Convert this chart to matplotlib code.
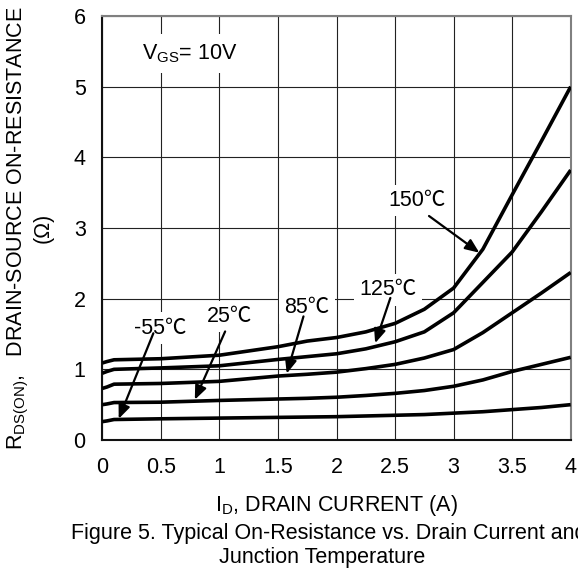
import matplotlib
matplotlib.use('Agg')
import matplotlib.pyplot as plt

plt.rcParams['font.family'] = ['Liberation Sans', 'Noto Sans CJK SC', 'DejaVu Sans']
plt.rcParams['mathtext.fontset'] = 'custom'
plt.rcParams['mathtext.rm'] = 'Liberation Sans'

# drain current (A) and R_DS(ON) (ohm)
i_d = [0.0, 0.04, 0.1, 0.5, 1.0, 1.5, 1.75, 2.0, 2.25, 2.5, 2.75, 3.0, 3.25, 3.5, 3.75, 4.0]
r_m55 = [0.26, 0.27, 0.29, 0.30, 0.31, 0.32, 0.325, 0.33, 0.34, 0.35, 0.36, 0.38, 0.40, 0.43, 0.46, 0.50]
r_25 = [0.50, 0.51, 0.53, 0.535, 0.56, 0.58, 0.59, 0.605, 0.63, 0.66, 0.70, 0.76, 0.85, 0.97, 1.07, 1.17]
r_85 = [0.73, 0.75, 0.79, 0.80, 0.83, 0.905, 0.93, 0.96, 1.01, 1.07, 1.16, 1.28, 1.52, 1.80, 2.08, 2.37]
r_125 = [0.945, 0.97, 1.0, 1.02, 1.05, 1.14, 1.18, 1.22, 1.29, 1.39, 1.53, 1.80, 2.23, 2.66, 3.23, 3.82]
r_150 = [1.09, 1.11, 1.135, 1.15, 1.20, 1.32, 1.40, 1.45, 1.53, 1.65, 1.85, 2.15, 2.70, 3.47, 4.23, 5.0]
curves = [r_m55, r_25, r_85, r_125, r_150]

temp_labels = ['-55℃', '25℃', '85℃', '125℃', '150℃']
label_xy = [(0.493, 1.584), (1.085, 1.749), (1.747, 1.868), (2.444, 2.128), (2.69, 3.39)]
arrow_from = [(0.436, 1.51), (1.049, 1.536), (1.718, 1.749), (2.46, 2.01), (2.79, 3.17)]
arrow_to = [(0.14, 0.30), (0.79, 0.57), (1.575, 0.94), (2.33, 1.37), (3.22, 2.65)]

x_ticks = [0, 0.5, 1, 1.5, 2, 2.5, 3, 3.5, 4]
x_ticklabels = ['0', '0.5', '1', '1.5', '2', '2.5', '3', '3.5', '4']
y_ticks = [0, 1, 2, 3, 4, 5, 6]

FS = 15.5

fig = plt.figure(figsize=(5.78, 5.70), dpi=100)
ax = fig.add_axes([102.3 / 578, 130 / 570, (570.7 - 102.3) / 578, (440 - 16) / 570])

for r in curves:
    ax.plot(i_d, r, color='black', lw=2.6, solid_capstyle='butt', solid_joinstyle='round', zorder=3)

ax.set_xlim(0, 4)
ax.set_ylim(0, 6)
ax.set_xticks(x_ticks)
ax.set_xticklabels(x_ticklabels)
ax.set_yticks(y_ticks)
ax.tick_params(length=0, labelsize=FS)
ax.tick_params(axis='x', pad=12)
ax.tick_params(axis='y', pad=12)
ax.grid(True, color='#222222', lw=0.8, zorder=0)
ax.set_axisbelow(True)
for side in ('top', 'right'):
    ax.spines[side].set_color('#808080')
    ax.spines[side].set_linewidth(1.5)
for side in ('left', 'bottom'):
    ax.spines[side].set_color('#111111')
    ax.spines[side].set_linewidth(1.5)

box = dict(boxstyle='square,pad=0.25', fc='white', ec='none')
for lab, (tx, ty), p0, p1 in zip(temp_labels, label_xy, arrow_from, arrow_to):
    ax.text(tx, ty, lab, fontsize=FS, ha='center', va='center', bbox=box, zorder=4)
    ax.annotate('', xy=p1, xytext=p0, zorder=5,
                arrowprops=dict(arrowstyle='-|>,head_length=0.6,head_width=0.25',
                                color='black', lw=1.6, mutation_scale=14,
                                shrinkA=0, shrinkB=0))

ax.text(0.337, 5.47, r'V$_{\mathregular{GS}}$= 10V', fontsize=FS, ha='left', va='center',
        bbox=dict(boxstyle='square,pad=0.4', fc='white', ec='none'), zorder=4)

# axis titles and caption (caption runs off the right edge, as in the original)
fig.text(18 / 578, 1 - 228 / 570, r'R$_{\mathregular{DS(ON)}}$,   DRAIN-SOURCE ON-RESISTANCE',
         rotation=90, fontsize=FS, ha='center', va='center')
fig.text(43 / 578, 1 - 228 / 570, '(Ω)', rotation=90, fontsize=FS, ha='center', va='center')
fig.text(336 / 578, 1 - 506 / 570, r'I$_{\mathregular{D}}$, DRAIN CURRENT (A)',
         fontsize=FS, ha='center', va='center')
fig.text(329 / 578, 1 - 534 / 570, 'Figure 5. Typical On-Resistance vs. Drain Current and',
         fontsize=FS, ha='center', va='center')
fig.text(322 / 578, 1 - 558 / 570, 'Junction Temperature', fontsize=FS, ha='center', va='center')

fig.savefig('out.png', dpi=100)
